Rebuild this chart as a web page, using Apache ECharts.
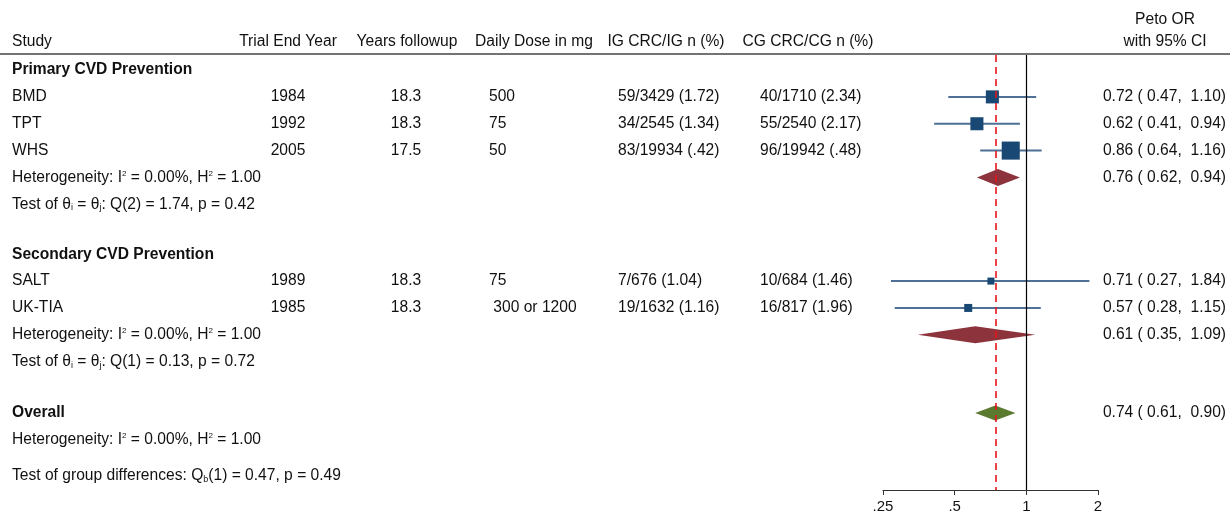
<!DOCTYPE html>
<html>
<head>
<meta charset="utf-8">
<title>Forest plot</title>
<script src="https://cdn.jsdelivr.net/npm/echarts@6/dist/echarts.min.js"></script>
<style>
  html, body { margin: 0; padding: 0; background: #fff; }
  #chart { width: 1230px; height: 514px; }
</style>
</head>
<body>
<div id="chart"></div>
<script>
// Study data
const studies = ['BMD', 'TPT', 'WHS', 'SALT', 'UK-TIA'];
const endYear = ['1984', '1992', '2005', '1989', '1985'];
const followup = ['18.3', '18.3', '17.5', '18.3', '18.3'];
const dose = ['500', '75', '50', '75', ' 300 or 1200'];
const igCounts = ['59/3429 (1.72)', '34/2545 (1.34)', '83/19934 (.42)', '7/676 (1.04)', '19/1632 (1.16)'];
const cgCounts = ['40/1710 (2.34)', '55/2540 (2.17)', '96/19942 (.48)', '10/684 (1.46)', '16/817 (1.96)'];
const orEst = [0.72, 0.62, 0.86, 0.71, 0.57];
const orLow = [0.47, 0.41, 0.64, 0.27, 0.28];
const orHigh = [1.10, 0.94, 1.16, 1.84, 1.15];
const weights = [21.7, 21.7, 41.6, 6.3, 8.2];

// Subgroup and overall data
const groupNames = ['Primary CVD Prevention', 'Secondary CVD Prevention'];
const groupOR = [0.76, 0.61];
const groupLow = [0.62, 0.35];
const groupHigh = [0.94, 1.09];
const groupI2 = ['0.00%', '0.00%'];
const groupH2 = ['1.00', '1.00'];
const groupQdf = [2, 1];
const groupQ = ['1.74', '0.13'];
const groupP = ['0.42', '0.72'];
const overall = [0.74, 0.61, 0.90];
const overallI2 = '0.00%';
const overallH2 = '1.00';
const groupDiff = ['1', '0.47', '0.49'];

// Axis ticks
const xTicks = [0.25, 0.5, 1, 2];
const xTickLabels = ['.25', '.5', '1', '2'];

// Row layout (row units)
const groupHeaderRow = [0, 6.86];
const studyRow = [1, 2, 3, 7.86, 8.86];
const groupHetRow = [4, 9.86];
const groupTestRow = [5, 10.86];
const overallRow = 12.77;
const overallHetRow = 13.78;
const groupDiffRow = 15.12;
const headerRow = -1.04;

const FONT = '"Liberation Sans", Arial, Helvetica, sans-serif';
const FS = 15.6;
const TXT = '#111';

const chart = echarts.init(document.getElementById('chart'));

const fmt = (a, b, c) => a.toFixed(2) + ' ( ' + b.toFixed(2) + ',  ' + c.toFixed(2) + ')';

const studyData = studies.map((s, i) => [
  Math.log2(orLow[i]), Math.log2(orHigh[i]), Math.log2(orEst[i]), studyRow[i], weights[i]
]);
const diamondData = [
  [Math.log2(groupLow[0]), Math.log2(groupHigh[0]), Math.log2(groupOR[0]), groupHetRow[0], 0],
  [Math.log2(groupLow[1]), Math.log2(groupHigh[1]), Math.log2(groupOR[1]), groupHetRow[1], 0],
  [Math.log2(overall[1]), Math.log2(overall[2]), Math.log2(overall[0]), overallRow, 1]
];

option = {
  backgroundColor: '#fff',
  animation: false,
  grid: { left: 883, right: 132, top: 55, bottom: 24 },
  xAxis: {
    type: 'value',
    position: 'bottom',
    min: -2,
    max: 1,
    interval: 1,
    splitLine: { show: false },
    axisLine: { show: true, onZero: false, lineStyle: { color: '#333', width: 1 } },
    axisTick: { show: true, length: 5, lineStyle: { color: '#333' } },
    axisLabel: {
      color: TXT, fontFamily: FONT, fontSize: 15, margin: 9,
      formatter: v => {
        const k = xTicks.findIndex(t => Math.abs(Math.log2(t) - v) < 1e-6);
        return k >= 0 ? xTickLabels[k] : '';
      }
    }
  },
  yAxis: {
    type: 'value',
    inverse: true,
    min: -0.56,
    max: 15.64,
    show: false
  },
  series: [
    {
      type: 'custom',
      name: 'studies',
      data: studyData,
      encode: { x: [0, 1, 2], y: 3 },
      renderItem: (params, api) => {
        const p1 = api.coord([api.value(0), api.value(3)]);
        const p2 = api.coord([api.value(1), api.value(3)]);
        const c = api.coord([api.value(2), api.value(3)]);
        const s = 2.8 * Math.sqrt(api.value(4));
        return {
          type: 'group',
          children: [
            { type: 'line', shape: { x1: p1[0], y1: p1[1], x2: p2[0], y2: p2[1] },
              style: { stroke: '#4d7094', lineWidth: 2 } },
            { type: 'rect', shape: { x: c[0] - s / 2, y: c[1] - s / 2, width: s, height: s },
              style: { fill: '#1a4874' } }
          ]
        };
      },
      markLine: {
        silent: true,
        symbol: 'none',
        label: { show: false },
        data: [
          { xAxis: 0, lineStyle: { color: '#000', width: 1.2, type: 'solid' } },
          { xAxis: Math.log2(overall[0]), lineStyle: { color: '#e8141c', width: 1.6, type: [7, 5] } }
        ]
      }
    },
    {
      type: 'custom',
      name: 'pooled',
      data: diamondData,
      encode: { x: [0, 1, 2], y: 3 },
      renderItem: (params, api) => {
        const l = api.coord([api.value(0), api.value(3)]);
        const r = api.coord([api.value(1), api.value(3)]);
        const c = api.coord([api.value(2), api.value(3)]);
        const isOverall = api.value(4) === 1;
        const h = isOverall ? 7.5 : 8.5;
        return {
          type: 'polygon',
          shape: { points: [[l[0], l[1]], [c[0], c[1] - h], [r[0], r[1]], [c[0], c[1] + h]] },
          style: { fill: isOverall ? '#5a7a2f' : '#8c333c' }
        };
      }
    }
  ]
};

chart.setOption(option);

// Table text
const yPix = row => chart.convertToPixel({ yAxisIndex: 0 }, row);
const rich = {
  sup: { fontSize: 8, fontFamily: FONT, fill: TXT, verticalAlign: 'top' },
  sub: { fontSize: 9, fontFamily: FONT, fill: TXT, verticalAlign: 'bottom' }
};
const txt = (text, x, row, align, bold, dy) => ({
  type: 'text',
  silent: true,
  style: {
    text: text,
    x: x,
    y: yPix(row) + (dy || 0),
    align: align || 'left',
    verticalAlign: 'middle',
    fontSize: FS,
    fontFamily: FONT,
    fontWeight: bold ? 'bold' : 'normal',
    fill: TXT,
    rich: rich
  }
});

const g = [];
// header
g.push(txt('Study', 12, headerRow));
g.push(txt('Trial End Year', 288, headerRow, 'center'));
g.push(txt('Years followup', 407, headerRow, 'center'));
g.push(txt('Daily Dose in mg', 534, headerRow, 'center'));
g.push(txt('IG CRC/IG n (%)', 666, headerRow, 'center'));
g.push(txt('CG CRC/CG n (%)', 808, headerRow, 'center'));
g.push(txt('Peto OR', 1165, headerRow - 0.82, 'center'));
g.push(txt('with 95% CI', 1165, headerRow, 'center'));
g.push({
  type: 'line', silent: true,
  shape: { x1: 0, y1: yPix(-0.6), x2: 1230, y2: yPix(-0.6) },
  style: { stroke: '#444', lineWidth: 1.5 }
});

// studies
studies.forEach((s, i) => {
  const r = studyRow[i];
  g.push(txt(s, 12, r));
  g.push(txt(endYear[i], 288, r, 'center'));
  g.push(txt(followup[i], 406, r, 'center'));
  g.push(txt(dose[i], 489, r));
  g.push(txt(igCounts[i], 618, r));
  g.push(txt(cgCounts[i], 760, r));
  g.push(txt(fmt(orEst[i], orLow[i], orHigh[i]), 1226, r, 'right'));
});

// subgroups
groupNames.forEach((name, k) => {
  g.push(txt(name, 12, groupHeaderRow[k], 'left', true));
  g.push(txt('Heterogeneity: I{sup|2} = ' + groupI2[k] + ', H{sup|2} = ' + groupH2[k], 12, groupHetRow[k]));
  g.push(txt('Test of θ{sub|i} = θ{sub|j}: Q(' + groupQdf[k] + ') = ' + groupQ[k] + ', p = ' + groupP[k], 12, groupTestRow[k]));
  g.push(txt(fmt(groupOR[k], groupLow[k], groupHigh[k]), 1226, groupHetRow[k], 'right'));
});

// overall
g.push(txt('Overall', 12, overallRow, 'left', true));
g.push(txt(fmt(overall[0], overall[1], overall[2]), 1226, overallRow, 'right'));
g.push(txt('Heterogeneity: I{sup|2} = ' + overallI2 + ', H{sup|2} = ' + overallH2, 12, overallHetRow));
g.push(txt('Test of group differences: Q{sub|b}(' + groupDiff[0] + ') = ' + groupDiff[1] + ', p = ' + groupDiff[2], 12, groupDiffRow));

chart.setOption({ graphic: g });

window.onresize = function () {
  chart.resize();
};
</script>
</body>
</html>
